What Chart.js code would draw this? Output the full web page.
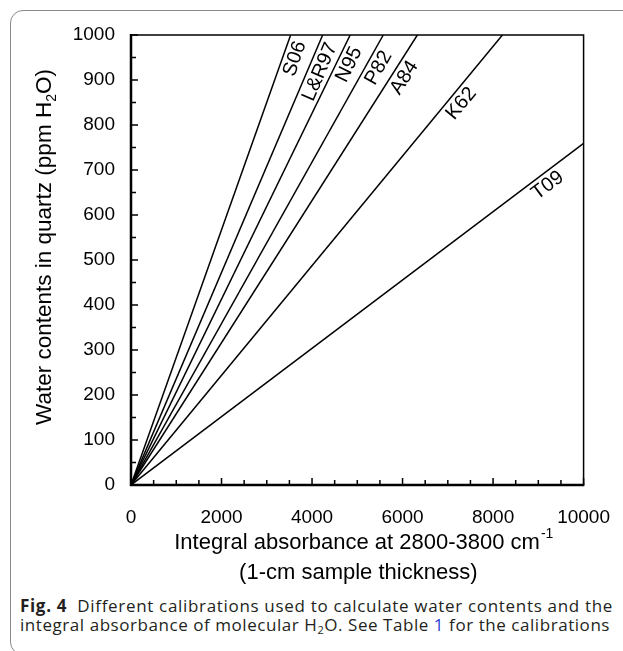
<!DOCTYPE html>
<html>
<head>
<meta charset="utf-8">
<script src="https://cdn.jsdelivr.net/npm/chart.js@4.4.1/dist/chart.umd.min.js"></script>
<style>
  html, body { margin: 0; padding: 0; background: #fff; overflow: hidden; width: 623px; height: 651px; }
  #frame { position: absolute; left: 10px; top: 10px; width: 660px; height: 645px; border: 1px solid #8a8a8a; border-radius: 13px; box-sizing: border-box; }
  #wrap { position: absolute; left: 0; top: 0; width: 623px; height: 590px; }
  #caption { position: absolute; left: 20px; top: 596px; font-family: "Open Sans", Lato, sans-serif; font-size: 17px; line-height: 19px; color: #231f20; white-space: nowrap; }
  #caption .ln { display: inline-block; }
  #caption b { font-weight: 700; margin-right: 5px; }
  #caption sub { font-size: 0.65em; vertical-align: -0.3em; line-height: 0; }
  #caption .ref { color: #2b3fd6; }
</style>
</head>
<body>
<div id="frame"></div>
<div id="wrap"><canvas id="chart"></canvas></div>
<div id="caption"><span class="ln" data-w="593"><b>Fig. 4</b> Different calibrations used to calculate water contents and the</span><br><span class="ln" data-w="590">integral absorbance of molecular H<sub>2</sub>O. See Table <span class="ref">1</span> for the calibrations</span></div>
<script>
// calibration lines, each runs from the origin to where it leaves the plot
const calibrations = ["S06", "L&R97", "N95", "P82", "A84", "K62", "T09"];
const endAbsorbance = [3527, 4235, 4843, 5574, 6327, 8207, 10000];
const endWater = [1000, 1000, 1000, 1000, 1000, 1000, 759];

const xTickLabels = [0, 2000, 4000, 6000, 8000, 10000];
const yTickLabels = [0, 100, 200, 300, 400, 500, 600, 700, 800, 900, 1000];
const xMinorStep = 500;
const yMinorStep = 50;

const FONT = '"Liberation Sans", Arial, Helvetica, sans-serif';

// how far back from the line end each label sits (px)
const labelBack = [21, 35, 27, 31, 43, 79, 54];

// stretch the caption lines to the width they have in the figure
document.querySelectorAll("#caption .ln").forEach((el) => {
  const n = el.textContent.length;
  const extra = Number(el.dataset.w) - el.getBoundingClientRect().width;
  el.style.letterSpacing = (extra / n).toFixed(3) + "px";
});

const extras = {
  id: "extras",
  afterDatasetsDraw(chart) {
    const { ctx, scales: { x, y } } = chart;
    ctx.save();
    ctx.fillStyle = "#000";
    ctx.font = "20px " + FONT;
    ctx.textAlign = "center";
    ctx.textBaseline = "middle";
    calibrations.forEach((name, i) => {
      const x0 = x.getPixelForValue(0), y0 = y.getPixelForValue(0);
      const x1 = x.getPixelForValue(endAbsorbance[i]), y1 = y.getPixelForValue(endWater[i]);
      const dx = x1 - x0, dy = y1 - y0, len = Math.hypot(dx, dy);
      const ux = dx / len, uy = dy / len;
      const cx = x1 - ux * labelBack[i] - uy * 12;
      const cy = y1 - uy * labelBack[i] + ux * 12;
      ctx.save();
      ctx.translate(cx, cy);
      ctx.rotate(Math.atan2(dy, dx));
      ctx.fillText(name, 0, 0);
      ctx.restore();
    });
    ctx.restore();
  },
  afterDraw(chart) {
    const { ctx, chartArea: a, scales: { x, y } } = chart;
    ctx.save();
    ctx.strokeStyle = "#000";

    // inward tick marks
    ctx.lineWidth = 1.5;
    ctx.beginPath();
    for (let v = 0; v <= 10000; v += xMinorStep) {
      const px = x.getPixelForValue(v);
      const len = v % 2000 === 0 ? 7 : 5;
      ctx.moveTo(px, a.bottom);
      ctx.lineTo(px, a.bottom - len);
    }
    for (let v = 0; v <= 1000; v += yMinorStep) {
      const py = y.getPixelForValue(v);
      const len = v % 100 === 0 ? 7 : 5;
      ctx.moveTo(a.left, py);
      ctx.lineTo(a.left + len, py);
    }
    ctx.stroke();

    // plot box: heavier on the axes
    ctx.lineWidth = 1.5;
    ctx.beginPath();
    ctx.moveTo(a.left, a.top);
    ctx.lineTo(a.right, a.top);
    ctx.lineTo(a.right, a.bottom);
    ctx.stroke();
    ctx.lineWidth = 2.5;
    ctx.beginPath();
    ctx.moveTo(a.left, a.top - 1);
    ctx.lineTo(a.left, a.bottom);
    ctx.lineTo(a.right + 0.75, a.bottom);
    ctx.stroke();

    // axis titles with sub/superscripts
    ctx.fillStyle = "#000";
    ctx.textBaseline = "alphabetic";
    ctx.textAlign = "left";
    const big = "22px " + FONT, small = "14px " + FONT;

    // x title
    const cxT = (a.left + a.right) / 2 + 3;
    ctx.font = big;
    const l1 = "Integral absorbance at 2800-3800 cm";
    const w1 = ctx.measureText(l1).width;
    ctx.font = small;
    const ws = ctx.measureText("-1").width;
    let sx = cxT - (w1 + ws) / 2 + 3;
    ctx.font = big;
    ctx.fillText(l1, sx, 549);
    ctx.font = small;
    ctx.fillText("-1", sx + w1 + 1, 538);
    ctx.font = big;
    ctx.textAlign = "center";
    ctx.fillText("(1-cm sample thickness)", cxT - 2, 579);

    // y title
    ctx.save();
    ctx.translate(51, 247);
    ctx.rotate(-Math.PI / 2);
    ctx.textAlign = "left";
    const p1 = "Water contents in quartz (ppm H", p2 = "2", p3 = "O)";
    const bigY = "22.5px " + FONT;
    ctx.font = bigY;
    const wa = ctx.measureText(p1).width, wc = ctx.measureText(p3).width;
    ctx.font = small;
    const wb = ctx.measureText(p2).width;
    let tx = -(wa + wb + wc) / 2;
    ctx.font = bigY;
    ctx.fillText(p1, tx, 0);
    ctx.font = small;
    ctx.fillText(p2, tx + wa, 5);
    ctx.font = bigY;
    ctx.fillText(p3, tx + wa + wb, 0);
    ctx.restore();

    ctx.restore();
  }
};

new Chart(document.getElementById("chart"), {
  type: "scatter",
  data: {
    datasets: calibrations.map((name, i) => ({
      label: name,
      data: [{ x: 0, y: 0 }, { x: endAbsorbance[i], y: endWater[i] }],
      showLine: true,
      borderColor: "#000",
      borderWidth: 1.5,
      pointRadius: 0,
      fill: false,
    })),
  },
  options: {
    responsive: true,
    maintainAspectRatio: false,
    animation: false,
    layout: { padding: { left: 0, top: 35, right: 36, bottom: 0 } },
    plugins: { legend: { display: false }, tooltip: { enabled: false } },
    scales: {
      x: {
        type: "linear",
        min: 0,
        max: 10000,
        afterBuildTicks: (s) => { s.ticks = xTickLabels.map((v) => ({ value: v })); },
        afterFit: (s) => { s.height = 105; },
        ticks: { padding: 13, color: "#000", maxRotation: 0, autoSkip: false, font: { family: FONT, size: 19 }, callback: (v) => String(v) },
        grid: { display: false },
        border: { display: false },
      },
      y: {
        type: "linear",
        min: 0,
        max: 1000,
        afterBuildTicks: (s) => { s.ticks = yTickLabels.map((v) => ({ value: v })); },
        afterFit: (s) => { s.width = 131; },
        ticks: { padding: 8, color: "#000", autoSkip: false, font: { family: FONT, size: 19 }, callback: (v) => String(v) },
        grid: { display: false },
        border: { display: false },
      },
    },
  },
  plugins: [extras],
});
</script>
</body>
</html>
